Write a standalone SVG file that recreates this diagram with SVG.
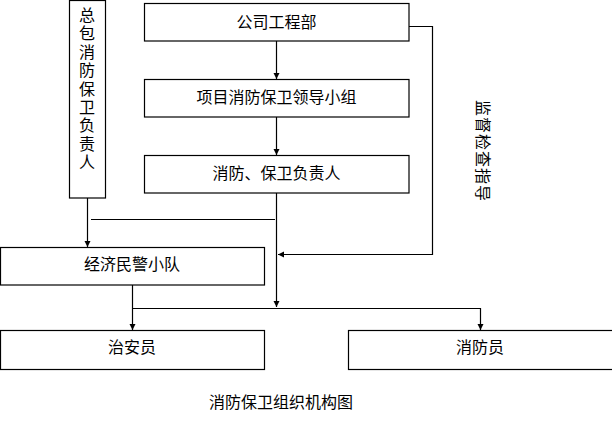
<svg xmlns="http://www.w3.org/2000/svg" width="612" height="431" viewBox="0 0 612 431">
<style>
.box{fill:#fff;stroke:#000;stroke-width:1.2}
.t{font-family:"Noto Sans CJK SC","DejaVu Sans",sans-serif;font-size:16px;fill:#000}
.c{text-anchor:middle}
.ln{fill:none;stroke:#000;stroke-width:1.2}
</style>
<defs>
<marker id="ah" markerUnits="userSpaceOnUse" markerWidth="7" markerHeight="7" refX="6" refY="3" orient="auto">
<path d="M0,0 L6,3 L0,6 z" fill="#000"/>
</marker>
</defs>
<rect width="612" height="431" fill="#fff"/>
<g id="connectors">
<path class="ln" d="M276.5,41 V79" marker-end="url(#ah)"/>
<path class="ln" d="M276.5,117 V155" marker-end="url(#ah)"/>
<path class="ln" d="M276.5,193 V307" marker-end="url(#ah)"/>
<path class="ln" d="M87.5,198 V247" marker-end="url(#ah)"/>
<path class="ln" d="M409,26.5 H432.5 V254.5 H278" marker-end="url(#ah)"/>
<path class="ln" d="M91,219.5 H275"/>
<path class="ln" d="M132.5,285 V330" marker-end="url(#ah)"/>
<path class="ln" d="M132.5,308.5 H480.5 V330" marker-end="url(#ah)"/>
</g>
<g id="n-zongbao">
<rect class="box" x="69.5" y="0.5" width="36" height="197.5"/>
<text class="t" x="87" y="7" writing-mode="vertical-rl" letter-spacing="2.4">总包消防保卫负责人</text>
</g>
<g id="n-gongsi">
<rect class="box" x="144.5" y="3.5" width="264.5" height="37.5"/>
<text class="t c" x="276.5" y="28">公司工程部</text>
</g>
<g id="n-xiangmu">
<rect class="box" x="144.5" y="79.5" width="264.5" height="37.5"/>
<text class="t c" x="276.5" y="103">项目消防保卫领导小组</text>
</g>
<g id="n-fuzeren">
<rect class="box" x="144.5" y="155.5" width="264.5" height="37.5"/>
<text class="t c" x="276.5" y="179">消防、保卫负责人</text>
</g>
<g id="n-jingji">
<rect class="box" x="0.5" y="247.5" width="264" height="37.5"/>
<text class="t c" x="132" y="270">经济民警小队</text>
</g>
<g id="n-zhian">
<rect class="box" x="0.5" y="330.5" width="264" height="39"/>
<text class="t c" x="132" y="353">治安员</text>
</g>
<g id="n-xiaofang">
<rect class="box" x="348.5" y="330.5" width="270" height="39"/>
<text class="t c" x="480" y="353">消防员</text>
</g>
<g id="label-jiandu">
<text class="t c" transform="translate(483,151) rotate(90)" x="0" y="6" letter-spacing="1">监督检查指导</text>
</g>
<g id="title">
<text class="t c" x="281" y="408">消防保卫组织机构图</text>
</g>
</svg>
